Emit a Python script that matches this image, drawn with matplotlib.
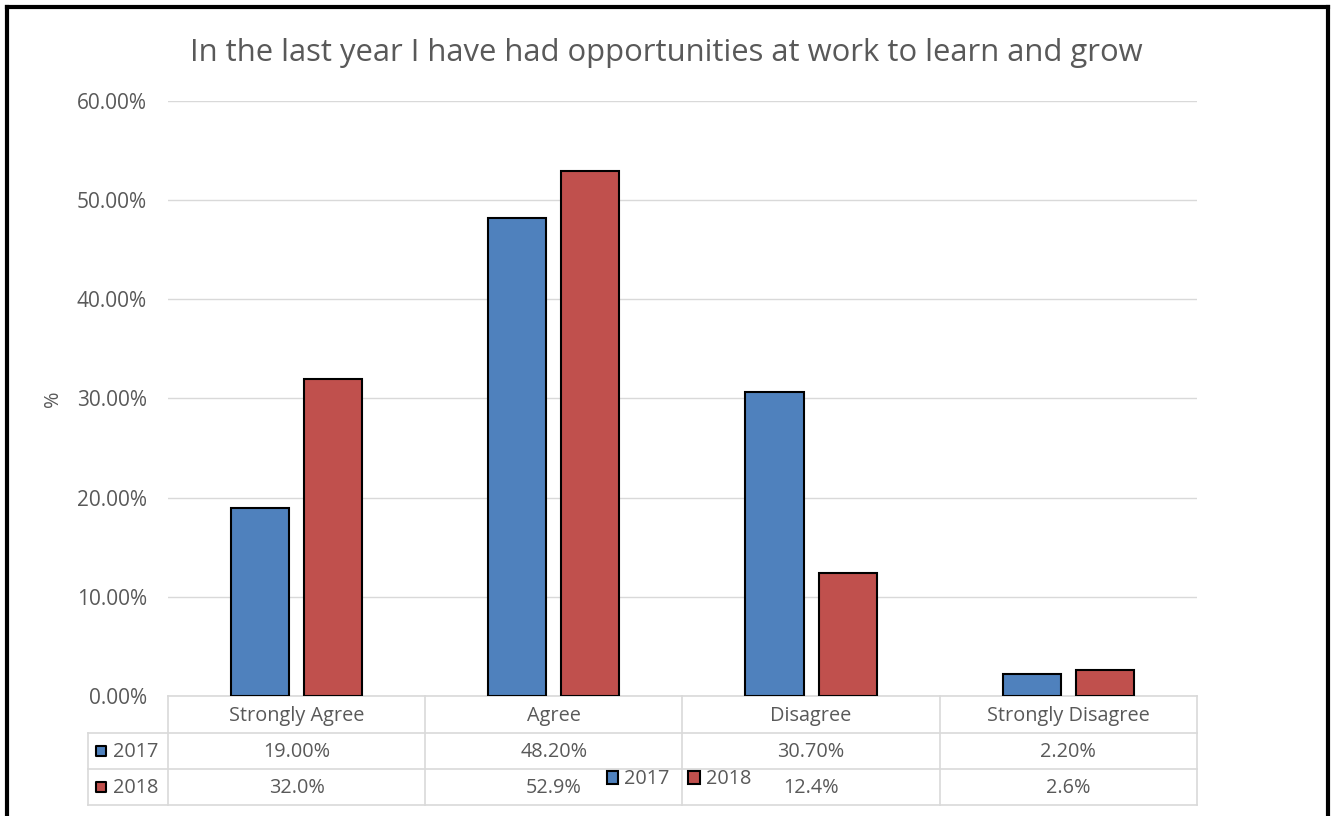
import matplotlib.pyplot as plt
import numpy as np
from matplotlib.patches import Patch
from matplotlib.lines import Line2D
from matplotlib.transforms import blended_transform_factory

plt.rcParams['font.family'] = ['Open Sans', 'DejaVu Sans']

categories = ['Strongly Agree', 'Agree', 'Disagree', 'Strongly Disagree']
series_names = ['2017', '2018']
values_2017 = [19.0, 48.2, 30.7, 2.2]
values_2018 = [32.0, 52.9, 12.4, 2.6]
labels_2017 = ['19.00%', '48.20%', '30.70%', '2.20%']
labels_2018 = ['32.0%', '52.9%', '12.4%', '2.6%']
yticks = [0, 10, 20, 30, 40, 50, 60]

blue = '#4F81BD'
red = '#C0504D'
text_gray = '#595959'
grid_gray = '#D9D9D9'
fs = 14.3

fig = plt.figure(figsize=(13.36, 8.16), dpi=100)
ax = fig.add_axes([0.1257, 0.1471, 0.7702, 0.7292])

x = np.arange(len(categories))
bw = 0.226
ax.bar(x - 0.142, values_2017, bw, color=blue, edgecolor='black', linewidth=1.5, zorder=3)
ax.bar(x + 0.142, values_2018, bw, color=red, edgecolor='black', linewidth=1.5, zorder=3)

ax.set_xlim(-0.5, len(categories) - 0.5)
ax.set_ylim(0, 60)
ax.set_yticks(yticks)
ax.set_yticklabels([f'{v:.2f}%' for v in yticks], fontsize=fs + 0.7, color=text_gray)
ax.tick_params(axis='y', length=0, pad=15)
ax.set_xticks([])
ax.grid(axis='y', color=grid_gray, linewidth=1, zorder=0)
for s in ax.spines.values():
    s.set_visible(False)
ax.set_ylabel('%', fontsize=fs, color=text_gray, labelpad=10)

ax.set_title('In the last year I have had opportunities at work to learn and grow',
             fontsize=22.3, color=text_gray, pad=29, x=0.4845)

# data table under the plot
tr = blended_transform_factory(ax.transData, ax.transAxes)
line_kw = dict(color=grid_gray, linewidth=1.2, clip_on=False)
left_col = -0.0777
row_lines = [0.0, -0.0622, -0.1227, -0.1832]
for i, yl in enumerate(row_lines):
    x0 = 0.0 if i == 0 else left_col
    ax.add_line(Line2D([x0, 1.0], [yl, yl], transform=ax.transAxes, **line_kw))
for b in np.arange(len(categories) + 1) - 0.5:
    ax.add_line(Line2D([b, b], [0.0, -0.1832], transform=tr, **line_kw))
ax.add_line(Line2D([left_col, left_col], [-0.0622, -0.1832], transform=ax.transAxes, **line_kw))

for i, cat in enumerate(categories):
    ax.text(i, -0.033, cat, transform=tr, ha='center', va='center', fontsize=fs, color=text_gray)
    ax.text(i, -0.0935, labels_2017[i], transform=tr, ha='center', va='center', fontsize=fs, color=text_gray)
    ax.text(i, -0.154, labels_2018[i], transform=tr, ha='center', va='center', fontsize=fs, color=text_gray)

for name, col, yc in [(series_names[0], blue, -0.0924), (series_names[1], red, -0.1529)]:
    ax.scatter([-0.0651], [yc], marker='s', s=55, color=col, edgecolor='black',
               linewidth=1.5, transform=ax.transAxes, clip_on=False, zorder=4)
    ax.text(-0.0535, yc - 0.001, name, transform=ax.transAxes, ha='left', va='center',
            fontsize=fs, color=text_gray)

handles = [Patch(facecolor=blue, edgecolor='black', linewidth=1.5, label=series_names[0]),
           Patch(facecolor=red, edgecolor='black', linewidth=1.5, label=series_names[1])]
fig.legend(handles=handles, loc='center', bbox_to_anchor=(0.508, 0.045), ncol=2, frameon=False,
           fontsize=fs, handlelength=0.6, handleheight=0.6, handletextpad=0.3,
           columnspacing=0.9, labelcolor=text_gray)

# outer frame of the chart
frame_kw = dict(color='black', linewidth=3, transform=fig.transFigure, solid_capstyle='projecting')
fig.add_artist(Line2D([0.0052, 0.0052], [0.0, 0.9920], **frame_kw))
fig.add_artist(Line2D([0.0052, 0.9940], [0.9920, 0.9920], **frame_kw))
fig.add_artist(Line2D([0.9940, 0.9940], [0.0, 0.9920], **frame_kw))

fig.savefig('out.png', dpi=100, facecolor='white')
